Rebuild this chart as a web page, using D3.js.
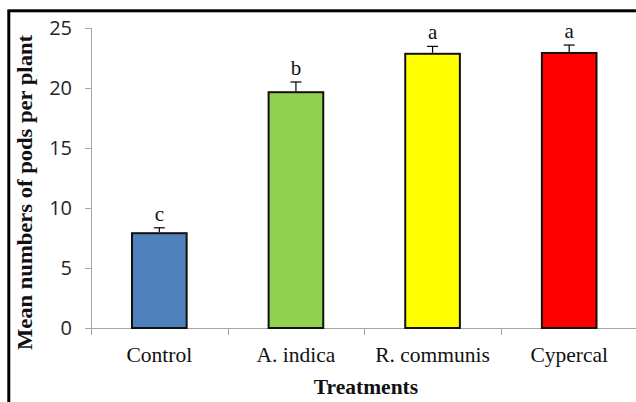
<!DOCTYPE html>
<html>
<head>
<meta charset="utf-8">
<script src="https://cdn.jsdelivr.net/npm/d3@7"></script>
<style>
  html, body { margin: 0; padding: 0; background: #fff; }
  svg { display: block; }
</style>
</head>
<body>
<svg id="chart" width="636" height="402"></svg>
<script>
const categories = ["Control", "A. indica", "R. communis", "Cypercal"];
const means = [7.9, 19.65, 22.85, 22.92];
const errors = [0.45, 0.85, 0.62, 0.66];
const letters = ["c", "b", "a", "a"];
const colors = ["#4F81BD", "#92D050", "#FFFF00", "#FF0000"];
const yTicks = [0, 5, 10, 15, 20, 25];
const yTitle = "Mean numbers of pods per plant";
const xTitle = "Treatments";

const svg = d3.select("#chart");

// outer frame (only left/top visible in the crop)
svg.append("rect")
  .attr("x", 8.8).attr("y", 10.8)
  .attr("width", 700).attr("height", 500)
  .attr("fill", "none").attr("stroke", "#000").attr("stroke-width", 3);

const x = d3.scaleBand().domain(categories).range([91, 637.5])
  .paddingInner(0.6).paddingOuter(0.3);
const y = d3.scaleLinear().domain([0, 25]).range([328, 28]);

// y axis
const yAxis = svg.append("g").attr("transform", "translate(91,0)")
  .call(d3.axisLeft(y).tickValues(yTicks).tickSize(6).tickSizeOuter(0).tickPadding(13));
yAxis.select(".domain").remove();
yAxis.selectAll(".tick line").attr("stroke", "#A6A6A6");
yAxis.selectAll(".tick text")
  .attr("font-family", "'Open Sans', 'Liberation Sans', sans-serif")
  .attr("font-size", 20).attr("fill", "#262626");
svg.append("line").attr("x1", 91.5).attr("x2", 91.5)
  .attr("y1", y(25)).attr("y2", y(0) + 7)
  .attr("stroke", "#A6A6A6").attr("stroke-width", 1);

// x axis line + category boundary ticks
svg.append("line").attr("x1", 91).attr("x2", 640)
  .attr("y1", y(0) + 0.5).attr("y2", y(0) + 0.5)
  .attr("stroke", "#A6A6A6").attr("stroke-width", 1);
const bounds = d3.range(1, categories.length).map(i => x.range()[0] + i * x.step());
svg.selectAll("line.ctick").data(bounds).join("line").attr("class", "ctick")
  .attr("x1", d => Math.round(d) + 0.5).attr("x2", d => Math.round(d) + 0.5)
  .attr("y1", y(0)).attr("y2", y(0) + 7)
  .attr("stroke", "#A6A6A6").attr("stroke-width", 1);

// bars
svg.selectAll("rect.bar").data(categories).join("rect").attr("class", "bar")
  .attr("x", d => x(d)).attr("width", x.bandwidth())
  .attr("y", (d, i) => y(means[i])).attr("height", (d, i) => y(0) - y(means[i]))
  .attr("fill", (d, i) => colors[i]).attr("stroke", "#111").attr("stroke-width", 2);

// error bars (upper only)
const eb = svg.selectAll("g.err").data(categories).join("g").attr("class", "err");
eb.append("line")
  .attr("x1", d => x(d) + x.bandwidth() / 2).attr("x2", d => x(d) + x.bandwidth() / 2)
  .attr("y1", (d, i) => y(means[i]) - 1).attr("y2", (d, i) => y(means[i] + errors[i]))
  .attr("stroke", "#000").attr("stroke-width", 1.2);
eb.append("line")
  .attr("x1", d => x(d) + x.bandwidth() / 2 - 5.5).attr("x2", d => x(d) + x.bandwidth() / 2 + 5.5)
  .attr("y1", (d, i) => y(means[i] + errors[i])).attr("y2", (d, i) => y(means[i] + errors[i]))
  .attr("stroke", "#000").attr("stroke-width", 1.2);

// significance letters
svg.selectAll("text.letter").data(categories).join("text").attr("class", "letter")
  .attr("x", d => x(d) + x.bandwidth() / 2)
  .attr("y", (d, i) => y(means[i] + errors[i]) - 7)
  .attr("text-anchor", "middle")
  .attr("font-family", "'Liberation Serif', 'Times New Roman', serif")
  .attr("font-size", 21).attr("fill", "#111")
  .text((d, i) => letters[i]);

// category labels
svg.selectAll("text.cat").data(categories).join("text").attr("class", "cat")
  .attr("x", d => x(d) + x.bandwidth() / 2).attr("y", 362)
  .attr("text-anchor", "middle")
  .attr("font-family", "'Liberation Serif', 'Times New Roman', serif")
  .attr("font-size", 21.5).attr("fill", "#111")
  .text(d => d);

// x title
svg.append("text").attr("x", 366).attr("y", 394).attr("text-anchor", "middle")
  .attr("font-family", "'Liberation Serif', 'Times New Roman', serif")
  .attr("font-weight", "bold").attr("font-size", 21.5).attr("fill", "#111")
  .text(xTitle);

// y title
svg.append("text").attr("transform", "translate(31.5,192.5) rotate(-90)")
  .attr("text-anchor", "middle")
  .attr("font-family", "'Liberation Serif', 'Times New Roman', serif")
  .attr("font-weight", "bold").attr("font-size", 21.5).attr("fill", "#111")
  .attr("textLength", 315).attr("lengthAdjust", "spacingAndGlyphs")
  .text(yTitle);
</script>
</body>
</html>
